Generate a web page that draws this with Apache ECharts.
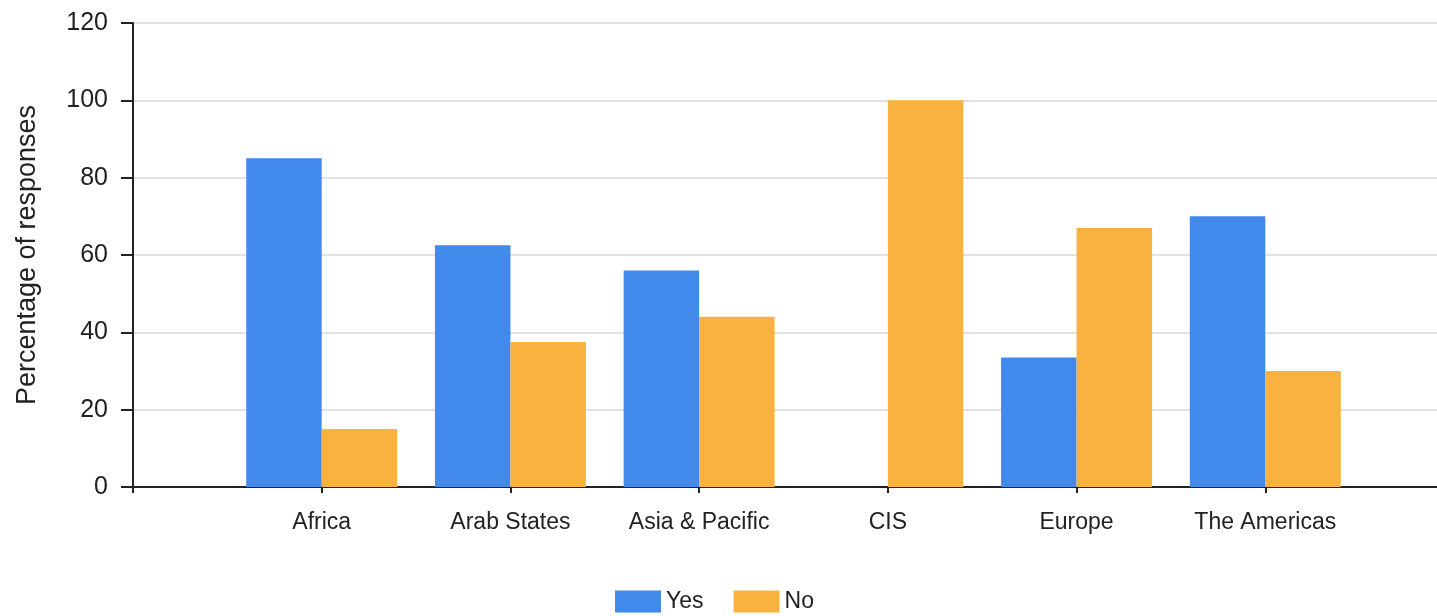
<!DOCTYPE html>
<html>
<head>
<meta charset="utf-8">
<script src="https://cdn.jsdelivr.net/npm/echarts@6/dist/echarts.min.js"></script>
<style>
  html, body { margin: 0; padding: 0; background: #fff; overflow: hidden; }
  /* the original x axis runs past the right edge of the picture */
  #chart { width: 1460px; height: 616px; }
</style>
</head>
<body>
<div id="chart"></div>
<script>
// regions, padded with a blank slot each side like the original axis
const categories = ['', 'Africa', 'Arab States', 'Asia & Pacific', 'CIS', 'Europe', 'The Americas', ''];
const yesValues = [null, 85, 62.5, 56, 0, 33.5, 70, null];
const noValues = [null, 15, 37.5, 44, 100, 67, 30, null];
const yTicks = [0, 20, 40, 60, 80, 100, 120];

const font = "'Liberation Sans', Arial, sans-serif";
const chart = echarts.init(document.getElementById('chart'));

chart.setOption({
  animation: false,
  textStyle: { fontFamily: font },
  legend: {
    top: 585,
    left: 610,
    icon: 'rect',
    itemWidth: 46,
    itemHeight: 22,
    itemGap: 30,
    textStyle: { fontSize: 23, color: '#222', fontFamily: font },
    data: ['Yes', 'No']
  },
  grid: { left: 133, top: 23, bottom: 129, right: 6 },
  xAxis: {
    type: 'category',
    data: categories,
    boundaryGap: false,
    axisLine: { lineStyle: { color: '#222', width: 2 } },
    axisTick: { alignWithLabel: true, length: 6, lineStyle: { color: '#222', width: 2 } },
    axisLabel: { fontSize: 23, color: '#222', margin: 24, fontFamily: font, interval: 0 },
    splitLine: { show: false }
  },
  yAxis: {
    type: 'value',
    min: yTicks[0],
    max: yTicks[yTicks.length - 1],
    interval: 20,
    name: 'Percentage of responses',
    nameLocation: 'middle',
    nameGap: 92,
    nameTextStyle: { fontSize: 27, color: '#222', fontFamily: font },
    axisLine: { show: true, lineStyle: { color: '#222', width: 2 } },
    axisTick: { show: true, length: 12, lineStyle: { color: '#222', width: 2 } },
    axisLabel: { fontSize: 25, color: '#222', margin: 25, fontFamily: font },
    splitLine: { lineStyle: { color: '#e2e2e2', width: 2 } }
  },
  series: [
    {
      name: 'Yes',
      type: 'bar',
      data: yesValues,
      barGap: '0%',
      barCategoryGap: '20%',
      itemStyle: { color: '#418aec' }
    },
    {
      name: 'No',
      type: 'bar',
      data: noValues,
      barGap: '0%',
      barCategoryGap: '20%',
      itemStyle: { color: '#f9b23f' }
    }
  ]
});
</script>
</body>
</html>
